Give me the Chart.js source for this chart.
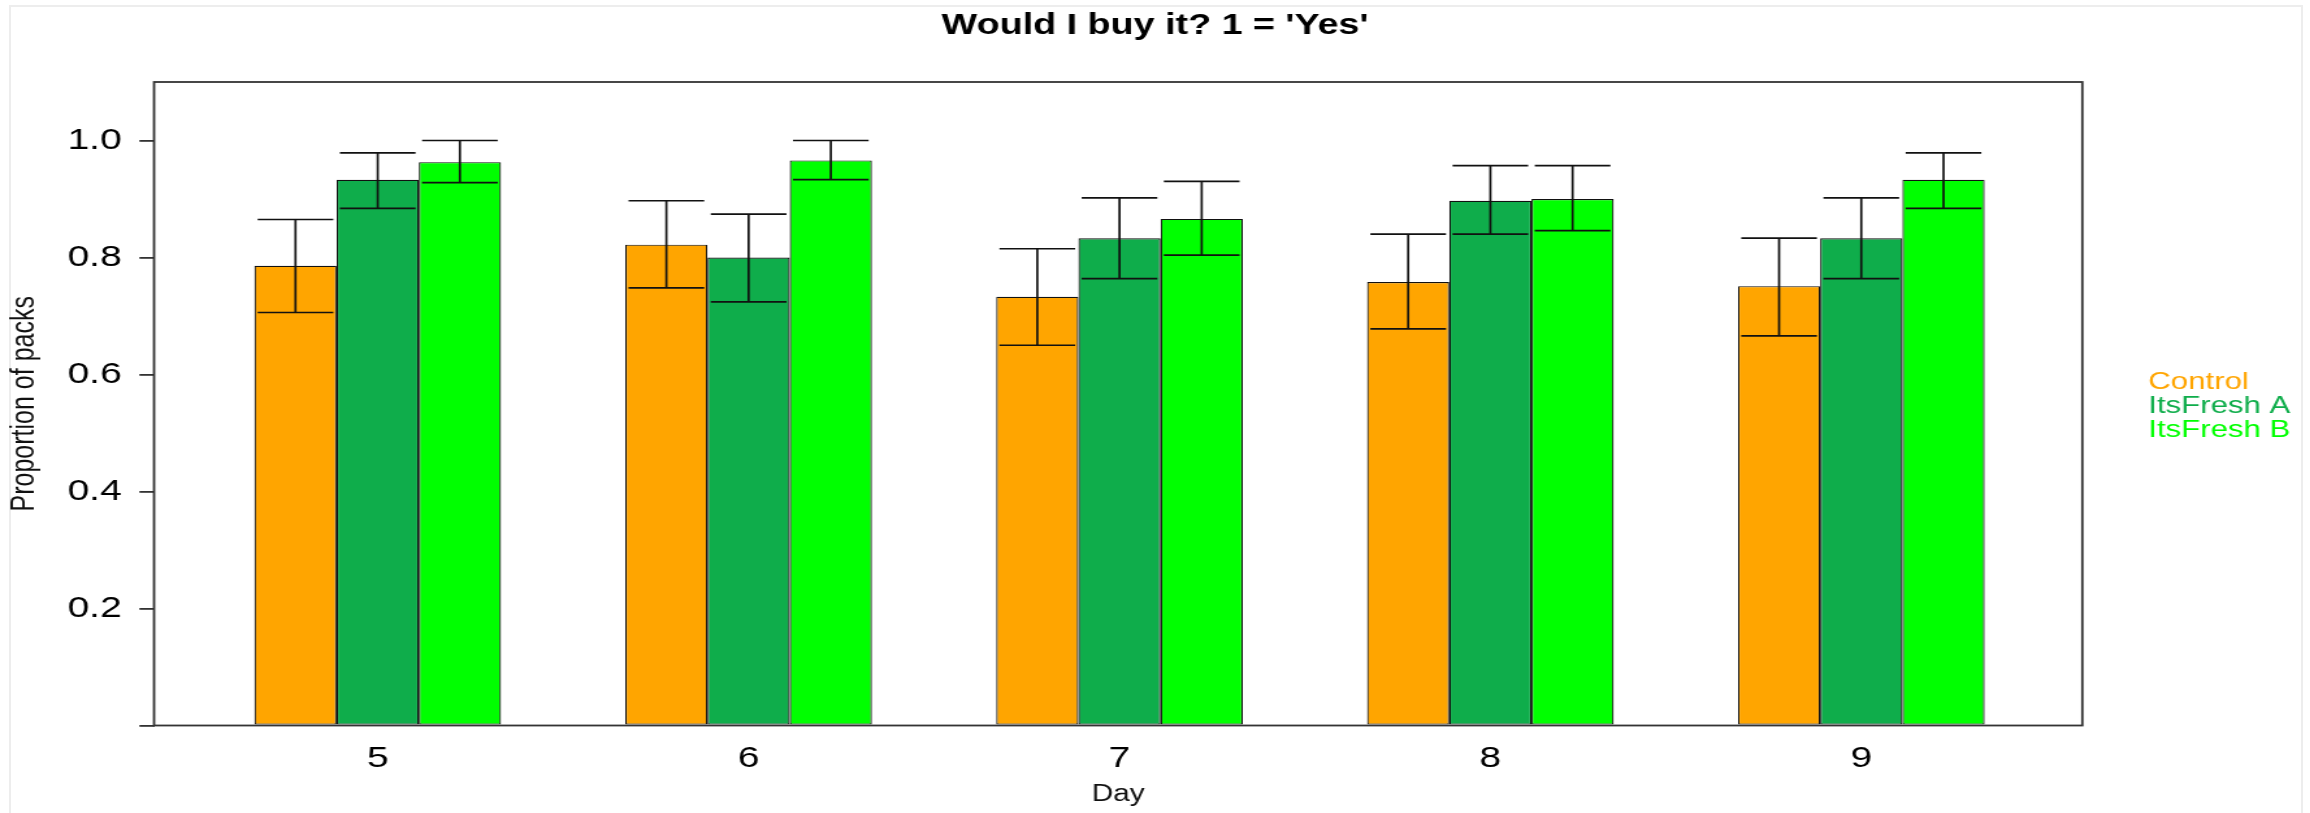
<!DOCTYPE html>
<html lang="en">
<head>
    <meta charset="UTF-8">
    <title>Would I buy it?</title>
    <script src="https://cdn.jsdelivr.net/npm/chart.js"></script>
    <style>
        * {
            margin: 0;
            padding: 0;
            box-sizing: border-box;
        }

        body {
            background-color: #ffffff;
            width: 2310px;
            height: 813px;
            overflow: hidden;
            position: relative;
        }

        .frame {
            position: absolute;
            left: 9px;
            top: 5px;
            width: 2294px;
            height: 900px;
            border: 2px solid #ededed;
        }

        /* the original figure is stretched sideways, so the chart is drawn narrower and scaled */
        #chart-container {
            position: absolute;
            left: 0;
            top: 0;
            width: 1777px;
            height: 813px;
            transform: scaleX(1.3);
            transform-origin: 0 0;
        }
    </style>
</head>
<body>
    <div class="frame"></div>
    <div id="chart-container">
        <canvas id="buyChart"></canvas>
    </div>

    <script>
        const days = [5, 6, 7, 8, 9];
        const groups = ['Control', 'ItsFresh A', 'ItsFresh B'];
        const groupColors = ['#ffa500', '#0fad4b', '#00ff00'];

        const control = [0.786, 0.822, 0.733, 0.758, 0.751];
        const controlLo = [0.706, 0.748, 0.650, 0.678, 0.666];
        const controlHi = [0.865, 0.897, 0.815, 0.840, 0.833];

        const freshA = [0.933, 0.800, 0.833, 0.897, 0.833];
        const freshALo = [0.884, 0.724, 0.764, 0.840, 0.764];
        const freshAHi = [0.979, 0.874, 0.902, 0.957, 0.902];

        const freshB = [0.963, 0.966, 0.866, 0.900, 0.933];
        const freshBLo = [0.928, 0.933, 0.804, 0.846, 0.884];
        const freshBHi = [1.0, 1.0, 0.930, 0.957, 0.979];

        const yTicks = [0, 0.2, 0.4, 0.6, 0.8, 1.0];
        const xMin = 4.397;
        const xMax = 9.596;

        const values = [control, freshA, freshB];
        const lows = [controlLo, freshALo, freshBLo];
        const highs = [controlHi, freshAHi, freshBHi];

        const fontFamily = "'Liberation Sans', Arial, sans-serif";

        // legend sizing, so the plot box ends where the original one does
        const legendFontSize = 24;
        const legendPad = 0.3;
        const legendBox = 38.4;
        const measureCtx = document.createElement('canvas').getContext('2d');
        measureCtx.font = legendFontSize + 'px ' + fontFamily;
        const textW = Math.max(...groups.map(g => measureCtx.measureText(g).width));
        const legendW = legendPad + legendBox + legendFontSize / 2 + textW + 10;
        const sidePad = Math.max(0, 1777 - 1601.8 - legendW);

        const errorBars = {
            id: 'errorBars',
            afterDatasetsDraw(chart) {
                const ctx = chart.ctx;
                const yScale = chart.scales.y;
                ctx.save();
                ctx.strokeStyle = '#111111';
                ctx.lineWidth = 1.7;
                chart.data.datasets.forEach((ds, i) => {
                    const meta = chart.getDatasetMeta(i);
                    meta.data.forEach((bar, j) => {
                        const yLo = yScale.getPixelForValue(lows[i][j]);
                        const yHi = yScale.getPixelForValue(highs[i][j]);
                        const half = bar.width * 0.46;
                        ctx.beginPath();
                        ctx.moveTo(bar.x, yLo);
                        ctx.lineTo(bar.x, yHi);
                        ctx.moveTo(bar.x - half, yLo);
                        ctx.lineTo(bar.x + half, yLo);
                        ctx.moveTo(bar.x - half, yHi);
                        ctx.lineTo(bar.x + half, yHi);
                        ctx.stroke();
                    });
                });
                ctx.restore();
            }
        };

        const plotBox = {
            id: 'plotBox',
            afterDraw(chart) {
                const a = chart.chartArea;
                const ctx = chart.ctx;
                ctx.save();
                ctx.strokeStyle = '#333333';
                ctx.lineWidth = 1.8;
                ctx.strokeRect(a.left, a.top, a.right - a.left, a.bottom - a.top);
                ctx.restore();
            }
        };

        const ctx = document.getElementById('buyChart').getContext('2d');
        const buyChart = new Chart(ctx, {
            type: 'bar',
            data: {
                datasets: groups.map((g, i) => ({
                    label: g,
                    data: days.map((d, j) => ({ x: d, y: values[i][j] })),
                    backgroundColor: groupColors[i],
                    borderColor: '#111111',
                    borderWidth: 1.2,
                    borderSkipped: false,
                    categoryPercentage: 0.665,
                    barPercentage: 1.0,
                })),
            },
            options: {
                responsive: true,
                maintainAspectRatio: false,
                animation: false,
                devicePixelRatio: 1,
                layout: {
                    padding: { left: sidePad, right: sidePad, top: 0, bottom: 0 },
                },
                plugins: {
                    tooltip: { enabled: false },
                    title: {
                        display: true,
                        text: "Would I buy it? 1 = 'Yes'",
                        color: '#000000',
                        font: { family: fontFamily, size: 29, weight: 'bold', lineHeight: 1.2 },
                        padding: { top: 8.3, bottom: 38.9 },
                    },
                    legend: {
                        position: 'right',
                        align: 'center',
                        labels: {
                            boxWidth: legendBox,
                            boxHeight: 2,
                            padding: legendPad,
                            font: { family: fontFamily, size: legendFontSize, lineHeight: 1.0 },
                            generateLabels(chart) {
                                return groups.map((g, i) => ({
                                    text: g,
                                    fontColor: groupColors[i],
                                    fillStyle: 'rgba(0,0,0,0)',
                                    strokeStyle: 'rgba(0,0,0,0)',
                                    lineWidth: 0,
                                    datasetIndex: i,
                                }));
                            },
                        },
                    },
                },
                scales: {
                    x: {
                        type: 'linear',
                        min: xMin,
                        max: xMax,
                        offset: false,
                        grid: { display: false },
                        border: { display: false },
                        afterBuildTicks: (scale) => {
                            scale.ticks = days.map(v => ({ value: v }));
                        },
                        afterFit: (scale) => {
                            scale.height = 87.5;
                        },
                        ticks: {
                            color: '#000000',
                            padding: 7.4,
                            maxRotation: 0,
                            font: { family: fontFamily, size: 30 },
                            callback: (v) => String(v),
                        },
                        title: {
                            display: true,
                            text: 'Day',
                            color: '#111111',
                            font: { family: fontFamily, size: 23, lineHeight: 1.2 },
                            padding: { top: 0, bottom: 4.2 },
                        },
                    },
                    y: {
                        min: 0,
                        max: 1.1,
                        grid: {
                            drawOnChartArea: false,
                            drawTicks: true,
                            tickLength: 11.3,
                            color: '#333333',
                            lineWidth: 1.8,
                        },
                        border: { display: false },
                        afterBuildTicks: (scale) => {
                            scale.ticks = yTicks.map(v => ({ value: v }));
                        },
                        afterFit: (scale) => {
                            scale.width = 118.5 - sidePad;
                        },
                        ticks: {
                            color: '#000000',
                            padding: 13.6,
                            font: { family: fontFamily, size: 30 },
                            callback: (v) => (v === 0 ? '' : v.toFixed(1)),
                        },
                        title: {
                            display: true,
                            text: 'Proportion of packs',
                            color: '#111111',
                            font: { family: fontFamily, size: 25, lineHeight: 1.2 },
                            padding: { top: 4.2 - sidePad, bottom: 0 },
                        },
                    },
                },
            },
            plugins: [errorBars, plotBox],
        });
    </script>
</body>
</html>
